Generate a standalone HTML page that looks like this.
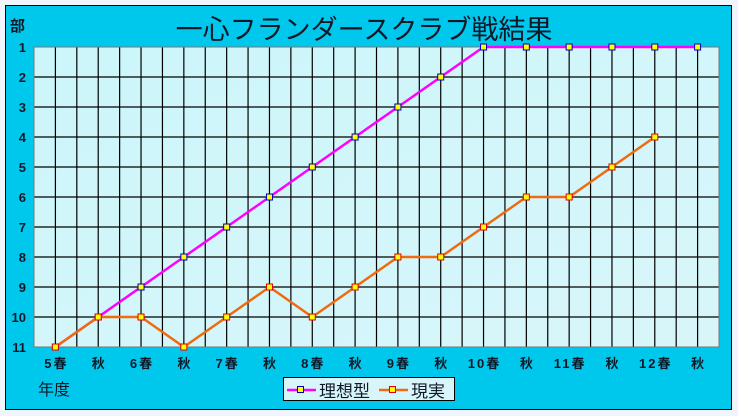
<!DOCTYPE html>
<html><head><meta charset="utf-8"><style>
body{margin:0;background:#f0f4fc;}
svg{display:block;}
text{font-family:"Liberation Sans","Noto Sans CJK JP",sans-serif;}
</style></head><body>
<svg width="738" height="416" viewBox="0 0 738 416" xmlns="http://www.w3.org/2000/svg">
<defs><linearGradient id="pg" x1="0" y1="0" x2="1" y2="1"><stop offset="0" stop-color="#ccf6fa"/><stop offset="1" stop-color="#d8f6fa"/></linearGradient></defs>
<rect x="0" y="0" width="738" height="416" fill="#f0f4fc"/>
<rect x="5.5" y="5.5" width="726" height="404" fill="#00c8ec" stroke="#000" stroke-width="1"/>
<text x="364" y="39" font-size="27" text-anchor="middle" fill="#101828">一心フランダースクラブ戦結果</text>
<rect x="34" y="47" width="685" height="300" fill="url(#pg)"/>
<g stroke="#000" stroke-width="1.2" id="grid"></g>
<rect x="34" y="47" width="685" height="300" fill="none" stroke="#777" stroke-width="1"/>
<text x="10" y="31" font-size="15" font-weight="bold" fill="#101828">部</text>
<g id="ylab" font-size="13" font-weight="bold" fill="#101828" text-anchor="end"></g>
<g id="xlab" font-size="13" font-weight="bold" fill="#101828" text-anchor="middle" letter-spacing="2"></g>
<text x="38" y="395" font-size="16" fill="#101828">年度</text>
<g id="series"></g>
<rect x="283.5" y="377.5" width="171" height="23" fill="#d8f6fa" stroke="#000" stroke-width="1"/>
<line x1="287" y1="390" x2="316" y2="390" stroke="#ff00ff" stroke-width="2.5"/>
<rect x="297.5" y="386.5" width="6" height="6" fill="#ffff00" stroke="#0000c0" stroke-width="1"/>
<text x="319" y="397" font-size="17" fill="#101828">理想型</text>
<line x1="379" y1="390" x2="408" y2="390" stroke="#f06a10" stroke-width="2.5"/>
<rect x="389.5" y="386.5" width="6" height="6" fill="#ffff00" stroke="#e00000" stroke-width="1"/>
<text x="411" y="397" font-size="17" fill="#101828">現実</text>
</svg>
<script>
var ns="http://www.w3.org/2000/svg";
function el(p,t,a,txt){var e=document.createElementNS(ns,t);for(var k in a)e.setAttribute(k,a[k]);if(txt)e.textContent=txt;document.getElementById(p).appendChild(e);}
var x0=34,dx=685/32,y0=47,dy=30;
for(var i=1;i<32;i++){var x=x0+dx*i;el("grid","line",{x1:x,y1:47,x2:x,y2:347});}
for(var j=1;j<10;j++){var y=y0+dy*j;el("grid","line",{x1:34,y1:y,x2:719,y2:y});}
for(var j=0;j<11;j++)el("ylab","text",{x:26,y:y0+dy*j+5},String(j+1));
var labs=["5春","秋","6春","秋","7春","秋","8春","秋","9春","秋","10春","秋","11春","秋","12春","秋"];
for(var k=0;k<16;k++)el("xlab","text",{x:X(k)+1,y:368},labs[k]);
function X(k){return x0+dx*(2*k+1);}function Y(v){return y0+dy*(v-1);}
var ideal=[11,10,9,8,7,6,5,4,3,2,1,1,1,1,1,1];
var real=[11,10,10,11,10,9,10,9,8,8,7,6,6,5,4];
function draw(d,c,b){var pts=d.map(function(v,k){return X(k)+","+Y(v);}).join(" ");
el("series","polyline",{points:pts,fill:"none",stroke:c,"stroke-width":2.5});
d.forEach(function(v,k){el("series","rect",{x:X(k)-3,y:Y(v)-3,width:6,height:6,fill:"#ffff00",stroke:b,"stroke-width":1});});}
draw(ideal,"#ff00ff","#0000c0");draw(real,"#f06a10","#e00000");
</script>
</body></html>
